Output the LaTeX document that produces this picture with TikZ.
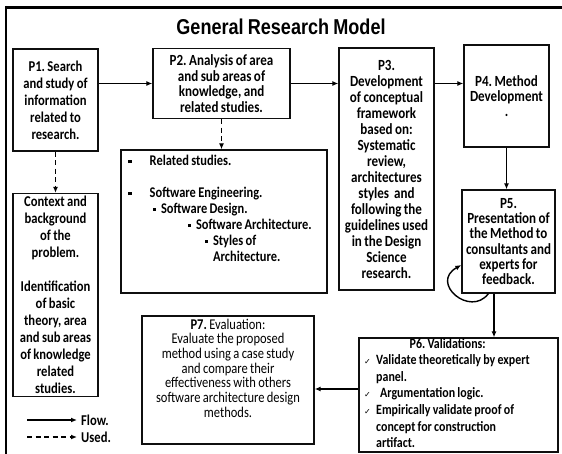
\documentclass[tikz,border=0pt]{standalone}
\usepackage{fontspec}
\setmainfont{Carlito}[FakeStretch=0.84,WordSpace=0.84]
\newfontfamily\titlefont{Liberation Sans}[FakeStretch=0.84,WordSpace=0.84]
\newfontfamily\symfont{DejaVu Sans}
\usepackage{tikz}
\usetikzlibrary{arrows.meta,calc}
\frenchspacing
\definecolor{boxedge}{RGB}{15,15,15}
\definecolor{boxshade}{RGB}{200,200,200}
\pgfdeclareradialshading{bevel}{\pgfpoint{0bp}{0bp}}{color(0bp)=(white); color(38bp)=(white); color(50bp)=(boxshade); color(72bp)=(boxshade)}
\newcommand{\chk}{\makebox[12pt][l]{\symfont\fontsize{8}{8}\selectfont ✓}}
\newcommand{\sqb}{\rule[0.35ex]{3.5pt}{3.5pt}}
\newcommand{\sqs}{\rule[0.4ex]{2.8pt}{2.8pt}}

\begin{document}
\begin{tikzpicture}[x=1pt,y=-1pt,
    stage/.style={draw=boxedge, line width=1.3pt, shading=bevel, align=center, inner sep=2pt},
    flow/.style={line width=1.4pt, -{Latex[length=6pt,width=5pt]}},
    used/.style={flow, dash pattern=on 5pt off 3.5pt},
    legend/.style={anchor=west, inner xsep=4pt, font=\bfseries\fontsize{15}{17}\selectfont}]
    \useasboundingbox (0,0) rectangle (562,454);

    % Frame and title
    \draw[line width=3.5pt] (5,7.5) -- (562,7.5);
    \draw[line width=2pt] (5.5,6) -- (5.5,454);
    \node[font=\titlefont\bfseries\fontsize{21.5}{23}\selectfont] (title) at (281,27) {General Research Model};

    % P1 and its context
    \node[stage, minimum width=85, minimum height=102,
          font=\bfseries\fontsize{15}{17}\selectfont] (P1) at (55.5,100)
        {P1. Search\\and study of\\information\\related to\\research.};
    \node[stage, minimum width=85, minimum height=203,
          font=\bfseries\fontsize{15}{17}\selectfont] (ctx) at (55.5,295)
        {Context and\\background\\of the\\problem.\\[17pt]Identification\\of basic\\theory, area\\and sub areas\\of knowledge\\related\\studies.};

    % P2 and the areas of knowledge
    \node[stage, minimum width=137, minimum height=70,
          font=\bfseries\fontsize{15.5}{15.5}\selectfont] (P2) at (221.5,83.5)
        {P2. Analysis of area\\and sub areas of\\knowledge, and\\related studies.};
    \node[stage, minimum width=206, minimum height=143] (P2det) at (224,221.5) {};
    \node[anchor=north west, align=left, inner sep=0pt,
          font=\bfseries\fontsize{14.8}{16}\selectfont] (P2dettxt) at (128,155)
        {\sqb\hspace*{18pt}Related studies.\\[16pt]
         \sqb\hspace*{18pt}Software Engineering.\\
         \hspace*{25pt}\sqs\hspace*{5pt}Software Design.\\
         \hspace*{60pt}\sqs\hspace*{5pt}Software Architecture.\\
         \hspace*{77pt}\sqs\hspace*{5pt}Styles of\\
         \hspace*{85pt}Architecture.};

    % P3, P4, P5
    \node[stage, minimum width=95, minimum height=242,
          font=\bfseries\fontsize{15.5}{16}\selectfont] (P3) at (386.5,169)
        {P3.\\Development\\of conceptual\\framework\\based on:\\Systematic\\review,\\architectures\\styles\ \ and\\following the\\guidelines used\\in the Design\\Science\\research.};
    \node[stage, minimum width=85, minimum height=102,
          font=\bfseries\fontsize{15.5}{15}\selectfont] (P4) at (506.5,96)
        {P4. Method\\Development\\.};
    \node[stage, minimum width=93, minimum height=103,
          font=\bfseries\fontsize{15.5}{15.2}\selectfont] (P5) at (508.5,241.5)
        {P5.\\Presentation of\\the Method to\\consultants and\\experts for\\feedback.};

    % P6 and P7
    \node[stage, minimum width=199, minimum height=114] (P6) at (458.5,395) {};
    \node[anchor=north west, align=left, inner sep=0pt,
          font=\bfseries\fontsize{14.2}{16.6}\selectfont] (P6txt) at (364,338)
        {\makebox[167pt][c]{P6. Validations:}\\
         \chk Validate theoretically by expert\\
         \hspace*{12pt}panel.\\
         \chk\hspace*{4pt}Argumentation logic.\\
         \chk Empirically validate proof of\\
         \hspace*{12pt}concept for construction\\
         \hspace*{12pt}artifact.};
    \node[stage, minimum width=172, minimum height=128] (P7) at (228,380) {};
    \node[anchor=north, align=center, inner sep=0pt,
          font=\fontsize{14.9}{14.7}\selectfont] (P7txt) at (228,318.5)
        {{\bfseries P7.} Evaluation:\\Evaluate the proposed\\method using a case study\\and compare their\\effectiveness with others\\software architecture design\\methods.};

    % Flow
    \draw[flow] (P1.east |- P2.west) -- (P2.west);
    \draw[flow] (P2.east) -- (P2.east -| P3.west);
    \draw[flow] (P3.east |- P2.east) -- (P4.west |- P2.east);
    \draw[flow] (P4.south) -- (P4.south |- P5.north);
    \draw[flow] ([xshift=-14.5pt]P5.south) -- ([xshift=-14.5pt]P5.south |- P6.north);
    \draw[flow] ([yshift=6pt]P6.west) -- ([yshift=6pt]P6.west -| P7.east);
    \draw[flow] ([xshift=27pt]P5.south west) .. controls +(-18,24) and +(-32,18) .. ([yshift=-23.5pt]P5.west);

    % Used
    \draw[used] (P1.south) -- (ctx.north);
    \draw[used] (P2.south) -- (P2.south |- P2det.north);

    % Legend
    \coordinate (flowS) at (27,420);
    \coordinate (usedS) at (27,437);
    \node[legend] (flowlbl) at (77,420) {Flow.};
    \node[legend] (usedlbl) at (77,437) {Used.};
    \draw[flow] (flowS) -- (flowlbl.west);
    \draw[used] (usedS) -- (usedlbl.west);
\end{tikzpicture}
\end{document}
